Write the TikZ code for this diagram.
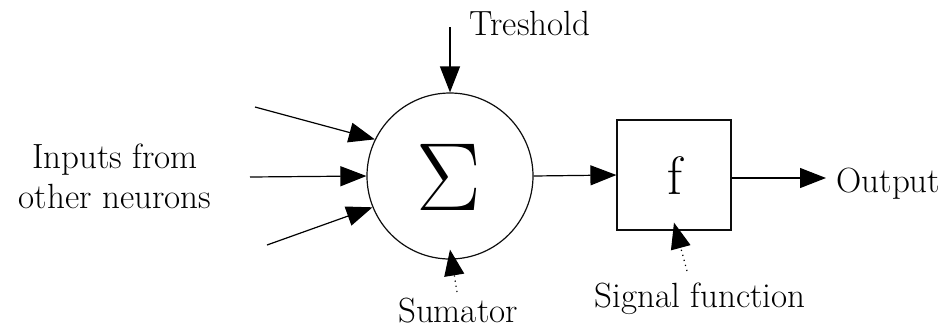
\documentclass[tikz,border=0pt]{standalone}
\usetikzlibrary{arrows.meta}
\definecolor{mylinecolor}{rgb}{0.05,0.05,0.05}

\begin{document}
\begin{tikzpicture}[x=0.5pt,y=-0.5pt,
    font=\fontsize{17.5}{20}\selectfont,
    line width=0.6pt,
    tip/.style={-{Triangle[length=13pt,width=10pt]}},
    soft/.style={tip,dotted}]
  \useasboundingbox (0,0) rectangle (949,328);
  % summing unit and signal function
  \node[circle,draw=mylinecolor,minimum size=83pt,inner sep=0pt]
    (sum) at (450,176) {};
  \node[scale=2.8] at (449,177) {$\Sigma$};
  \node[rectangle,draw=mylinecolor,minimum width=57pt,minimum height=55pt,inner sep=0pt]
    (fbox) at (674,175) {};
  \node[font=\fontsize{27}{27}\selectfont] at (675,176) {f};
  % labels
  \node[align=center] (inputs) at (115,176) {Inputs from\\other neurons};
  \node[anchor=base] (tresh) at (530,35) {Treshold};
  \node[anchor=base] (sumator) at (458,322) {Sumator};
  \node[anchor=base] (signal) at (700,307) {Signal function};
  \node[anchor=base west,inner sep=0pt] (output) at (836,192) {Output};
  \coordinate (in1) at (255,107);
  \coordinate (in2) at (250,177);
  \coordinate (in3) at (267,245);
  \coordinate (tr) at (450,27);
  \coordinate (su) at (457,292);
  \coordinate (sg) at (687,271);
  \coordinate (out) at (826,178);
  % connectors
  \draw[tip] (in1) -- (sum.154);
  \draw[tip] (in2) -- (sum.west);
  \draw[tip] (in3) -- (sum.202);
  \draw[tip] (tr) -- (sum.north);
  \draw[soft] (su) -- ([yshift=5pt]sum.south);
  \draw[tip] (sum.east) -- (fbox.west);
  \draw[soft] (sg) -- ([yshift=4pt]fbox.south);
  \draw[tip] (fbox.east |- out) -- (out);
\end{tikzpicture}
\end{document}
